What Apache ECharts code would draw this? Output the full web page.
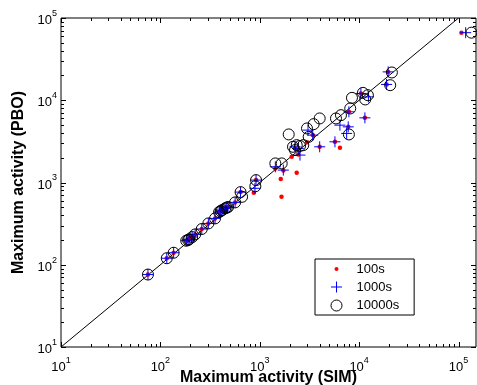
<!DOCTYPE html>
<html><head><meta charset="utf-8">
<script src="https://cdn.jsdelivr.net/npm/echarts@6/dist/echarts.min.js"></script>
<style>html,body{margin:0;padding:0;background:#fff}#c{width:477px;height:385px}</style>
</head><body><div id="c"></div>
<script>
const seriesNames = ['100s', '1000s', '10000s'];
const xTitle = 'Maximum activity (SIM)';
const yTitle = 'Maximum activity (PBO)';
const xRange = [10, 150000];
const yRange = [10, 100000];
const decades = [10, 100, 1000, 10000, 100000];
const minorMultipliers = [2, 3, 4, 5, 6, 7, 8, 9];

// points on the diagonal shared by all three times
const onLine = [[75,76],[116,120],[136,140],[182,196],[190,200],[195,204],[209,217],[224,234],[261,272],[304,318],[355,366],[390,437],[405,450],[418,462],[448,484],[465,495],[480,503],[565,573],[641,764],[918,1069]];
const extra100 = [[871,750],[1435,1480],[1727,1400],[1626,1100],[2354,1312],[1656,670],[2098,2053],[2443,2193],[2264,2600],[2990,3080],[3410,3767],[4009,2716],[5710,3124],[6410,2641],[7890,7230],[7770,4750],[11430,6110],[10420,12100],[19600,22130],[18900,15560],[107000,66300]];
const extra1000 = [[895,850],[1435,1552],[1727,1415],[2264,2716],[2443,2596],[2541,2153],[3058,4334],[3410,3767],[4009,2716],[5710,3124],[6410,4980],[7890,7230],[7770,4750],[7490,3950],[11430,6110],[10420,12100],[12400,10990],[19600,22130],[18900,15560],[118000,66300]];
const extra10000 = [[664,670],[903,900],[1435,1706],[1663,1706],[2161,2716],[2355,2847],[2541,2780],[2742,2847],[2264,2477],[1956,3843],[2988,4543],[3489,5124],[4009,6010],[3108,3590],[5848,6010],[6568,6590],[8140,7946],[7890,3840],[8470,10700],[10920,12300],[12250,11530],[11520,10230],[21360,21770],[20540,15250],[135000,66300]];
const diagLine = [[10,10],[100000,100000]];

const pts100 = onLine.concat(extra100);
const pts1000 = onLine.concat(extra1000);
const pts10000 = onLine.concat(extra10000);

const FONT = "'Liberation Sans', Arial, Helvetica, sans-serif";

// tick values (major decades and minor 2..9)
const xTicks = [], yTicks = [];
decades.forEach(d => {
  if (d >= xRange[0] && d <= xRange[1]) xTicks.push([d, yRange[0], 1]);
  if (d >= yRange[0] && d <= yRange[1]) yTicks.push([xRange[0], d, 1]);
  minorMultipliers.forEach(m => {
    const v = d * m;
    if (v > xRange[0] && v < xRange[1]) xTicks.push([v, yRange[0], 0]);
    if (v > yRange[0] && v < yRange[1]) yTicks.push([xRange[0], v, 0]);
  });
});

function labelFmt(v) {
  const e = Math.log10(v), r = Math.round(e);
  if (Math.abs(e - r) > 1e-6) return '';
  return '{b|10}{s|' + r + '}';
}
const richLbl = {
  b: {fontSize: 13, lineHeight: 18, fontFamily: FONT, color: '#000', verticalAlign: 'bottom'},
  s: {fontSize: 9, lineHeight: 9, fontFamily: FONT, color: '#000', verticalAlign: 'top'}
};

const chart = echarts.init(document.getElementById('c'), null, {renderer: 'canvas'});
const MAJ = 5, MIN = 3;
chart.setOption({
  animation: false,
  backgroundColor: '#fff',
  grid: {left: 61, right: 1, top: 18, bottom: 38, outerBoundsMode: 'none', containLabel: false, show: true, borderColor: '#000', borderWidth: 1, backgroundColor: 'transparent'},
  xAxis: {
    type: 'log', logBase: 10, min: xRange[0], max: xRange[1],
    axisLine: {show: false}, axisTick: {show: false}, splitLine: {show: false},
    axisLabel: {formatter: labelFmt, rich: richLbl, margin: 9, showMaxLabel: false},
    name: xTitle, nameLocation: 'middle', nameGap: 23, nameMoveOverlap: false,
    nameTextStyle: {fontFamily: FONT, fontSize: 16, fontWeight: 'bold', color: '#000'}
  },
  yAxis: {
    type: 'log', logBase: 10, min: yRange[0], max: yRange[1],
    axisLine: {show: false}, axisTick: {show: false}, splitLine: {show: false},
    axisLabel: {formatter: labelFmt, rich: richLbl, margin: 4},
    name: yTitle, nameLocation: 'middle', nameGap: 31,
    nameTextStyle: {fontFamily: FONT, fontSize: 16, fontWeight: 'bold', color: '#000'}
  },
  legend: {
    orient: 'vertical', left: 315, top: 259,
    padding: [3, 15, 2, 6], itemWidth: 30, itemHeight: 14, itemGap: 3.5,
    backgroundColor: '#fff', borderColor: '#000', borderWidth: 1, borderRadius: 0,
    textStyle: {fontFamily: FONT, fontSize: 13, color: '#000'},
    selectedMode: false,
    data: [
      {name: seriesNames[0], icon: 'path://M0,0M30,14M13,7a2,2 0 1,0 4,0a2,2 0 1,0 -4,0z', itemStyle: {color: '#ff0000', borderWidth: 0}},
      {name: seriesNames[1], icon: 'path://M0,0M30,14M15,1.5L15,12.5M9.5,7L20.5,7', itemStyle: {color: 'transparent', borderColor: '#0000ff', borderWidth: 1}},
      {name: seriesNames[2], icon: 'path://M0,0M30,14M9.5,7a5.5,5.5 0 1,0 11,0a5.5,5.5 0 1,0 -11,0z', itemStyle: {color: 'transparent', borderColor: '#000', borderWidth: 1}}
    ]
  },
  series: [
    {type: 'line', data: diagLine, symbol: 'none', silent: true, lineStyle: {color: '#000', width: 1}, z: 1},
    {name: seriesNames[0], type: 'scatter', data: pts100, symbol: 'circle', symbolSize: 4.5,
     itemStyle: {color: '#ff0000', opacity: 1}, z: 2},
    {name: seriesNames[1], type: 'scatter', data: pts1000, symbol: 'path://M5,0L5,10M0,5L10,5', symbolSize: 11,
     itemStyle: {color: 'transparent', borderColor: '#0000ff', borderWidth: 1, opacity: 1}, z: 3},
    {name: seriesNames[2], type: 'scatter', data: pts10000, symbol: 'circle', symbolSize: 11,
     itemStyle: {color: 'transparent', borderColor: '#000', borderWidth: 1, opacity: 1}, z: 4},
    {type: 'custom', data: xTicks, silent: true, z: 5, clip: false,
     renderItem: (params, api) => {
       const v = api.value(0), L = api.value(2) ? MAJ : MIN;
       const b = api.coord([v, yRange[0]]), t = api.coord([v, yRange[1]]);
       const x = Math.round(b[0]) + 0.5;
       return {type: 'group', children: [
         {type: 'line', shape: {x1: x, y1: b[1], x2: x, y2: b[1] - L}, style: {stroke: '#000', lineWidth: 1}},
         {type: 'line', shape: {x1: x, y1: t[1], x2: x, y2: t[1] + L}, style: {stroke: '#000', lineWidth: 1}}
       ]};
     }},
    {type: 'custom', data: yTicks, silent: true, z: 5, clip: false,
     renderItem: (params, api) => {
       const v = api.value(1), L = api.value(2) ? MAJ : MIN;
       const l = api.coord([xRange[0], v]), r = api.coord([xRange[1], v]);
       const y = Math.round(l[1]) + 0.5;
       return {type: 'group', children: [
         {type: 'line', shape: {x1: l[0], y1: y, x2: l[0] + L, y2: y}, style: {stroke: '#000', lineWidth: 1}},
         {type: 'line', shape: {x1: r[0], y1: y, x2: r[0] - L, y2: y}, style: {stroke: '#000', lineWidth: 1}}
       ]};
     }}
  ]
});
</script></body></html>
